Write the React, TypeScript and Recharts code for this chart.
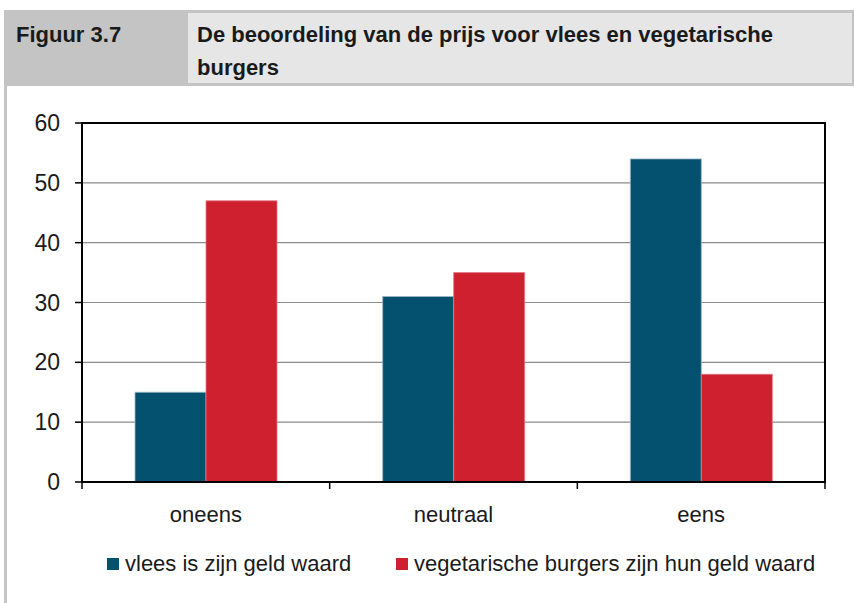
import React from 'react';
import { BarChart, Bar, XAxis, YAxis, CartesianGrid, ReferenceArea } from 'recharts';

const categories = ['oneens', 'neutraal', 'eens'];
const vleesValues = [15, 31, 54];
const vegaValues = [47, 35, 18];
const yTicks = [0, 10, 20, 30, 40, 50, 60];
const seriesNames = ['vlees is zijn geld waard', 'vegetarische burgers zijn hun geld waard'];
const figureLabel = 'Figuur 3.7';
const titleLines = ['De beoordeling van de prijs voor vlees en vegetarische', 'burgers'];

const colors = {
  vlees: '#03516f',
  vega: '#cf2030',
  text: '#1a1a1a',
  grid: '#8c8c8c',
  headerDark: '#c4c4c4',
  headerLight: '#e6e6e6',
};

const data = categories.map((cat, i) => ({
  cat,
  vlees: vleesValues[i],
  vega: vegaValues[i],
}));

const FONT = '"Liberation Sans", Arial, sans-serif';
const TICK_SIZE = 7;
const TICK_MARGIN = 17;

// category labels at the band centre, tick marks on the band edges
const CategoryTick = (props: any) => {
  const { x, y, payload, index } = props;
  const half = payload && payload.offset ? payload.offset : 124;
  const axisY = y - TICK_SIZE - TICK_MARGIN;
  const last = index === categories.length - 1;
  return (
    <g>
      <line x1={x - half} x2={x - half} y1={axisY} y2={axisY + TICK_SIZE} stroke="#000" strokeWidth={1.5} />
      {last && (
        <line x1={x + half} x2={x + half} y1={axisY} y2={axisY + TICK_SIZE} stroke="#000" strokeWidth={1.5} />
      )}
      <text x={x} y={y} dy="0.71em" textAnchor="middle" fontSize={22} fontFamily={FONT} fill={colors.text}>
        {payload.value}
      </text>
    </g>
  );
};

const LegendItem = ({ left, color, label }: { left: number; color: string; label: string }) => (
  <div style={{ position: 'absolute', left, top: 553, height: 22 }}>
    <div style={{ position: 'absolute', left: 0, top: 5, width: 12, height: 12, background: color }} />
    <div
      style={{
        position: 'absolute',
        left: 18,
        top: 0,
        whiteSpace: 'nowrap',
        fontSize: 22,
        lineHeight: '22px',
        color: colors.text,
      }}
    >
      {label}
    </div>
  </div>
);

export default function App() {
  return (
    <div
      style={{
        position: 'absolute',
        left: 0,
        top: 0,
        width: 854,
        height: 603,
        background: '#fff',
        fontFamily: FONT,
        overflow: 'hidden',
      }}
    >
      {/* grey frame on the left and the header band */}
      <div style={{ position: 'absolute', left: 4, top: 10, width: 3, height: 593, background: colors.headerDark }} />
      <div style={{ position: 'absolute', left: 4, top: 10, width: 850, height: 76, background: colors.headerDark }} />
      <div style={{ position: 'absolute', left: 188, top: 13, width: 664, height: 70, background: colors.headerLight }} />
      <div
        style={{
          position: 'absolute',
          left: 16,
          top: 18,
          fontSize: 22,
          lineHeight: '33px',
          fontWeight: 'bold',
          color: colors.text,
          whiteSpace: 'nowrap',
        }}
      >
        {figureLabel}
      </div>
      <div
        style={{
          position: 'absolute',
          left: 197,
          top: 18,
          fontSize: 22,
          lineHeight: '33px',
          fontWeight: 'bold',
          color: colors.text,
          whiteSpace: 'nowrap',
        }}
      >
        {titleLines.map((l) => (
          <div key={l}>{l}</div>
        ))}
      </div>

      <div style={{ position: 'absolute', left: 0, top: 0 }}>
        <BarChart
          width={854}
          height={603}
          data={data}
          margin={{ top: 123, right: 29, left: 22, bottom: 81 }}
          barCategoryGap="21.4%"
          barGap={0}
        >
          <CartesianGrid vertical={false} stroke={colors.grid} strokeWidth={1.2} />
          <ReferenceArea
            y1={yTicks[0]}
            y2={yTicks[yTicks.length - 1]}
            fill="none"
            fillOpacity={0}
            stroke="#000"
            strokeWidth={2}
            ifOverflow="visible"
          />
          <XAxis
            dataKey="cat"
            height={40}
            axisLine={{ stroke: '#000', strokeWidth: 2 }}
            tickLine={false}
            tickSize={TICK_SIZE}
            tickMargin={TICK_MARGIN}
            tick={<CategoryTick />}
            interval={0}
          />
          <YAxis
            width={60}
            domain={[0, 60]}
            ticks={yTicks}
            allowDataOverflow
            axisLine={{ stroke: '#000', strokeWidth: 2 }}
            tickLine={{ stroke: '#000', strokeWidth: 1.5 }}
            tickSize={TICK_SIZE}
            tickMargin={15}
            tick={{ fontSize: 23, fill: colors.text, fontFamily: FONT }}
          />
          <Bar dataKey="vlees" name={seriesNames[0]} fill={colors.vlees} stroke="#9db8c6" strokeWidth={0.8} isAnimationActive={false} />
          <Bar dataKey="vega" name={seriesNames[1]} fill={colors.vega} stroke="#e27a84" strokeWidth={0.8} isAnimationActive={false} />
        </BarChart>
      </div>

      <LegendItem left={107} color={colors.vlees} label={seriesNames[0]} />
      <LegendItem left={396} color={colors.vega} label={seriesNames[1]} />
    </div>
  );
}
